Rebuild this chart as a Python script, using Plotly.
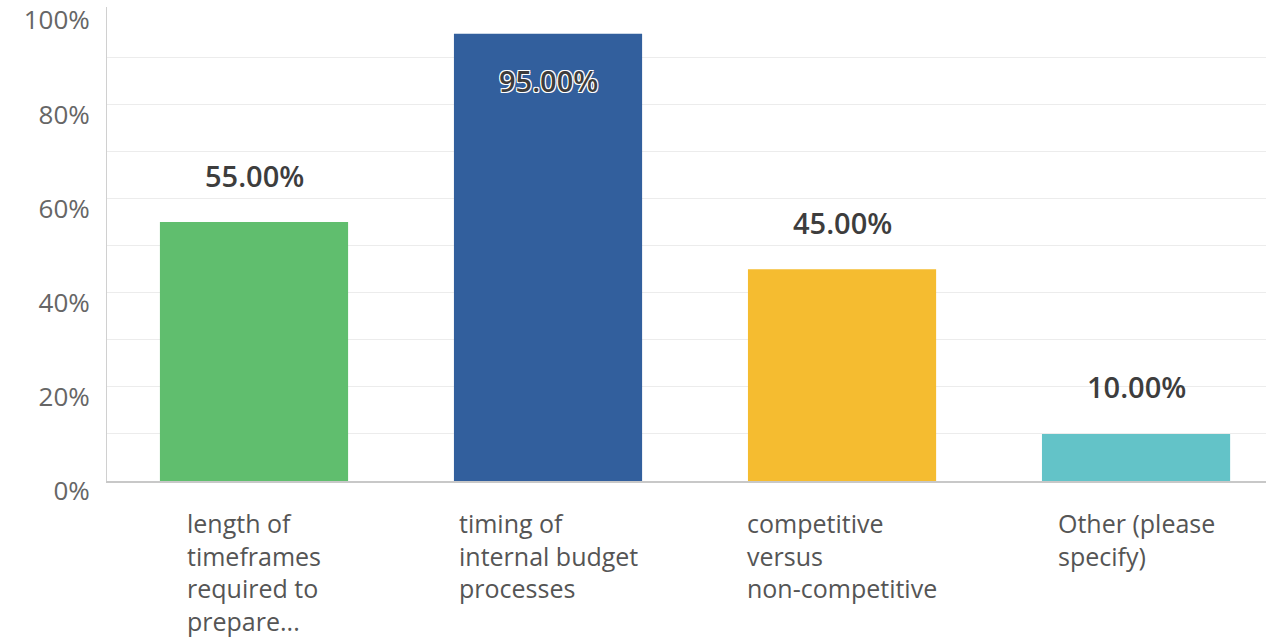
import plotly.graph_objects as go

categories = ["length of<br>timeframes<br>required to<br>prepare...",
              "timing of<br>internal budget<br>processes",
              "competitive<br>versus<br>non-competitive",
              "Other (please<br>specify)"]
values = [55.0, 95.0, 45.0, 10.0]
colors = ["#60BE6E", "#325F9D", "#F5BC30", "#63C3C8"]
y_tick_vals = [0, 20, 40, 60, 80, 100]
y_tick_text = ["0%", "20%", "40%", "60%", "80%", "100%"]
grid_vals = [10, 20, 30, 40, 50, 60, 70, 80, 90]

FONT = "Open Sans"
xs = list(range(len(categories)))

fig = go.Figure()
fig.add_trace(go.Bar(x=xs, y=values, marker=dict(color=colors, line=dict(width=0)),
                     hoverinfo="skip", showlegend=False))
# invisible trace to activate grid overlay axis
fig.add_trace(go.Scatter(x=[xs[0]], y=[0], yaxis="y2", mode="markers",
                         marker=dict(opacity=0), hoverinfo="skip", showlegend=False))

for i, (c, v) in enumerate(zip(categories, values)):
    inside = v > 90
    fig.add_annotation(
        x=i, y=v, xref="x", yref="y", text=f"{v:.2f}%", showarrow=False,
        yshift=-47 if inside else 47, xanchor="center", yanchor="middle",
        font=dict(family=FONT, size=29, color="#3d3d3d", weight=600,
                  shadow="1px 1px 0 #fff, -1px -1px 0 #fff, 1px -1px 0 #fff, -1px 1px 0 #fff" if inside else "none"))
    fig.add_annotation(
        x=i, y=0, xref="x", yref="paper", text=c, showarrow=False,
        xanchor="center", yanchor="top", align="left", yshift=-23,
        font=dict(family=FONT, size=25, color="#555555"))

fig.update_layout(
    width=1266, height=642,
    margin=dict(l=107, r=0, t=7, b=161),
    paper_bgcolor="white", plot_bgcolor="white",
    bargap=0.36,
    xaxis=dict(range=[-0.5, 3.442], showticklabels=False, showgrid=False,
               zeroline=False, showline=True, linecolor="#c8c8c8", linewidth=2,
               fixedrange=True),
    yaxis=dict(range=[0, 100.7], tickvals=y_tick_vals, ticktext=y_tick_text,
               showgrid=False, zeroline=False, showline=True, linecolor="#d0d0d0",
               linewidth=1, ticks="", ticklabelstandoff=11, ticklabelshift=10,
               ticklabeloverflow="allow",
               tickfont=dict(family=FONT, size=26, color="#666666")),
    yaxis2=dict(range=[0, 100.7], overlaying="y", tickvals=grid_vals,
                showticklabels=False, showgrid=True, gridcolor="#ececec",
                gridwidth=1, zeroline=False, showline=False, ticks=""),
)

fig.write_html("out.html", config={"displayModeBar": False},
               post_script="document.body.style.margin='0';")
